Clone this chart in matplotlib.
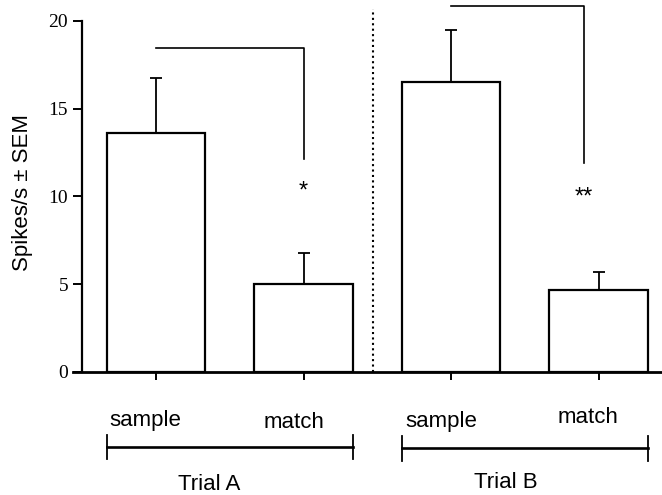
import matplotlib
matplotlib.use('Agg')
import matplotlib.pyplot as plt
import numpy as np


# Firing rates for each epoch of the two trial types
conditions = ['sample', 'match', 'sample', 'match']
trials = ['Trial A', 'Trial B']
rates = [13.6, 5.0, 16.5, 4.65]
sem = [3.15, 1.75, 3.0, 1.05]
yticks = [0, 5, 10, 15, 20]

# Significance brackets: (x start, x end, top, bottom of drop, stars)
brackets = [(0.0, 1.0, 18.43, 12.1, '*'),
            (2.0, 2.9, 20.86, 11.9, '**')]
star_heights = [10.25, 9.95]


def plot(out_file='out.png'):
    """
    Bar plot of spikes/s for sample and match epochs of two trials.

    :param out_file: Name of the png to write.
    """
    fig = plt.figure(figsize=(6.62, 4.95), dpi=100)
    ax = fig.add_axes([0.1239, 0.249, 0.876, 0.709])

    x = np.arange(len(rates))
    width = 2.0 / 3.0
    ax.bar(x, rates, width, color='white', edgecolor='black',
           linewidth=1.6, zorder=2)
    ax.errorbar(x, rates, yerr=[np.zeros(len(sem)), sem], fmt='none',
                ecolor='black', elinewidth=1.3, capsize=4.5, capthick=1.3,
                zorder=1)

    ax.set_xlim(-0.502, 3.43)
    ax.set_ylim(0, 20)

    # axes: left spine plus a baseline that runs past it
    for side in ['top', 'right', 'bottom']:
        ax.spines[side].set_visible(False)
    ax.spines['left'].set_linewidth(1.6)
    ax.plot([-0.565, 3.43], [0, 0], color='black', lw=2.0,
            clip_on=False, zorder=3)

    ax.set_yticks(yticks)
    ax.set_yticklabels([str(t) for t in yticks], family='Liberation Serif',
                       fontsize=14)
    ax.tick_params(axis='y', direction='out', length=6.5, width=1.4, pad=3.5)
    ax.set_xticks(x)
    ax.set_xticklabels([])
    ax.tick_params(axis='x', direction='out', length=6, width=1.4)

    fig.text(23 / 662, 1 - 192.5 / 495, 'Spikes/s \u00b1 SEM', rotation=90,
             ha='center', va='center', family='Liberation Sans', fontsize=16)

    # dotted divider between the two trials
    ax.plot([1.47, 1.47], [0, 20.65], color='black', lw=1.5,
            linestyle=(0, (1, 1.6)), clip_on=False)

    # significance brackets and stars
    for (x0, x1, top, bottom, stars), sy in zip(brackets, star_heights):
        ax.plot([x0, x1, x1], [top, top, bottom], color='black', lw=1.2,
                clip_on=False)
        ax.text(x1, sy, stars, ha='center', va='center', fontsize=17,
                family='Liberation Sans')

    # epoch labels under the bars
    label_x = [-0.318, 0.726, 1.690, 2.722]
    label_y = [-3.08, -3.2, -3.14, -2.94]
    for name, lx, ly in zip(conditions, label_x, label_y):
        ax.text(lx, ly, name, ha='left', va='baseline', fontsize=16,
                family='Liberation Sans', clip_on=False)

    # trial brackets under the epoch labels
    trial_y = [-4.3, -4.36]
    trial_label_x = [0.36, 2.37]
    trial_label_y = [-6.76, -6.64]
    for i, name in enumerate(trials):
        x0 = x[2 * i] - width / 2
        x1 = x[2 * i + 1] + width / 2
        ty = trial_y[i]
        ax.plot([x0, x1], [ty, ty], color='black', lw=1.9, clip_on=False)
        for xe in (x0, x1):
            ax.plot([xe, xe], [ty - 0.7, ty + 0.7], color='black', lw=1.3,
                    clip_on=False)
        ax.text(trial_label_x[i], trial_label_y[i], name, ha='center',
                va='baseline', fontsize=16, family='Liberation Sans')

    fig.savefig(out_file, dpi=100)


if __name__ == '__main__':
    plot()
